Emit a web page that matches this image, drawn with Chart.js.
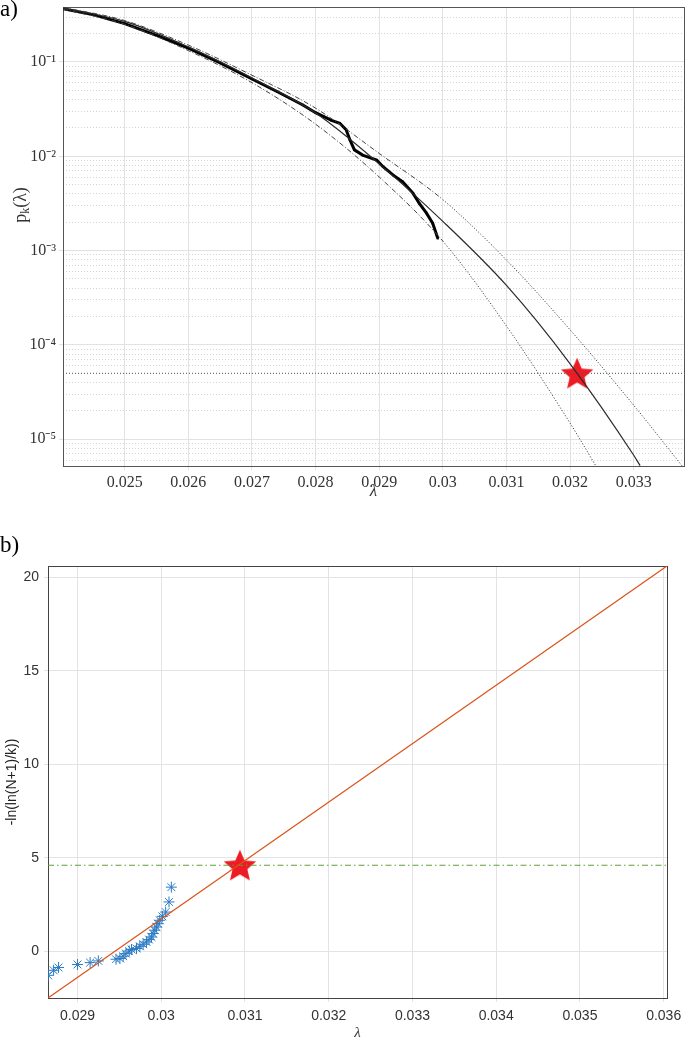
<!DOCTYPE html>
<html><head><meta charset="utf-8">
<script src="https://cdn.jsdelivr.net/npm/chart.js@4/dist/chart.umd.min.js"></script>
<style>
body{margin:0;background:#fff;width:685px;height:1044px;position:relative;overflow:hidden}
canvas{position:absolute;left:0}
#c1{top:0}
#c2{top:505px}
.lab{position:absolute;font-family:"Liberation Serif",serif;font-size:23px;color:#000}
.ytitle{position:absolute;left:21px;top:205px;transform:translate(-50%,-50%) rotate(-90deg);font-family:"Liberation Serif",serif;font-size:18px;color:#333;white-space:nowrap}
.ytitle sub{font-size:12px;vertical-align:-3px}
</style></head><body>
<canvas id="c1" width="685" height="505"></canvas>
<canvas id="c2" width="685" height="539"></canvas>
<div class="lab" style="left:0px;top:-4px">a)</div>
<div class="lab" style="left:0px;top:532px">b)</div>
<div class="ytitle">p<sub>k</sub>(λ)</div>
<script>
// ---------- Panel a) data ----------
const fitLam = [0.02403, 0.0250, 0.0260, 0.0270, 0.0280, 0.0290, 0.0300, 0.0310, 0.0320, 0.0330, 0.0331];
const fitP   = [0.3715, 0.2692, 0.1445, 0.0676, 0.0288, 0.00832, 0.00204, 4.27e-4, 6.31e-5, 6.76e-6, 5.25e-6];
const upLam  = [0.02403, 0.0250, 0.0260, 0.0270, 0.0280, 0.0290, 0.0300, 0.0310, 0.0320, 0.0330, 0.03378];
const upP    = [0.380, 0.275, 0.151, 0.0724, 0.0324, 0.01072, 0.00347, 7.94e-4, 1.445e-4, 2.29e-5, 5.01e-6];
const loLam  = [0.02403, 0.0250, 0.0260, 0.0270, 0.0280, 0.0290, 0.0300, 0.0310, 0.0320, 0.03242];
const loP    = [0.363, 0.251, 0.132, 0.0603, 0.0219, 0.00603, 0.00126, 1.585e-4, 1.479e-5, 5.01e-6];
const empLam = [0.02403, 0.0245, 0.0250, 0.0255, 0.0260, 0.0265, 0.0270, 0.0274, 0.0278, 0.0280, 0.02825, 0.02838, 0.02848, 0.02854, 0.02861, 0.02874, 0.02896, 0.02906, 0.02922, 0.02937, 0.02953, 0.02963, 0.02974, 0.02984, 0.02992];
const empP   = [0.368, 0.318, 0.255, 0.192, 0.140, 0.098, 0.066, 0.0484, 0.0350, 0.0290, 0.0240, 0.0224, 0.0191, 0.0149, 0.0117, 0.0103, 0.0091, 0.00776, 0.00631, 0.00537, 0.00407, 0.00316, 0.00251, 0.00195, 0.00135];
const pThreshold = 5e-5;
const starTopLam = 0.03211;
const topXMin = 0.02403, topXMax = 0.03379;
const topYMin = 5.2e-6, topYMax = 0.383;
const topXTicks = [0.025, 0.026, 0.027, 0.028, 0.029, 0.030, 0.031, 0.032, 0.033];
const topYTicks = [1e-5, 1e-4, 1e-3, 1e-2, 1e-1];
const topYLabels = ['10\u207B\u2075', '10\u207B\u2074', '10\u207B\u00B3', '10\u207B\u00B2', '10\u207B\u00B9'];

// ---------- Panel b) data ----------
const gLam = [0.02865, 0.028715, 0.028774, 0.029000, 0.029151, 0.029249, 0.029460, 0.029507, 0.029546, 0.029578, 0.029618, 0.029646, 0.029705, 0.029745, 0.029784, 0.029824, 0.029855, 0.029884, 0.029903, 0.029923, 0.029943, 0.029962, 0.029982, 0.030014, 0.030053, 0.030093, 0.030121];
const gY   = [-1.27, -1.00, -0.85, -0.69, -0.59, -0.50, -0.41, -0.37, -0.25, -0.11, 0.03, 0.11, 0.16, 0.28, 0.39, 0.51, 0.64, 0.78, 0.96, 1.14, 1.31, 1.49, 1.67, 1.88, 2.11, 2.65, 3.44];
const fitLineLam = [0.028648, 0.03604];
const fitLineY   = [-2.48, 20.59];
const yThreshold = 4.61;
const starBotLam = 0.03094;
const botXMin = 0.028648, botXMax = 0.03604;
const botYMin = -2.48, botYMax = 20.59;
const botXTicks = [0.029, 0.030, 0.031, 0.032, 0.033, 0.034, 0.035, 0.036];
const botYTicks = [0, 5, 10, 15, 20];

// ---------- helpers ----------
const zip = (xs, ys) => xs.map((x, i) => ({x: x, y: ys[i]}));
function makeStar(size, color) {
  const c = document.createElement('canvas');
  c.width = c.height = size;
  const g = c.getContext('2d');
  const R = size / 2, r = R * 0.46, dy = R * 0.09;
  g.beginPath();
  for (let i = 0; i < 10; i++) {
    const a = -Math.PI / 2 + i * Math.PI / 5;
    const rad = (i % 2) ? r : R;
    g.lineTo(R + rad * Math.cos(a), R + dy + rad * Math.sin(a));
  }
  g.closePath();
  g.fillStyle = color;
  g.fill();
  return c;
}
const starImg = makeStar(34, '#ED1C24');
const minorTicks = [];
topYTicks.concat([1]).forEach(d => { for (let k = 2; k <= 9; k++) { const v = d / 10 * k; if (v > topYMin && v < topYMax) minorTicks.push(v); } });
const serif = 'Liberation Serif';
const sans = 'Liberation Sans';
const boundDash = ctx => (ctx.p0.parsed.x < 0.02995 ? [5, 2, 1, 2] : [1.2, 1.8]);
const noInteract = {responsive: false, animation: false, events: []};
const fitH = h => s => { s.height = h; s.paddingLeft = 0; s.paddingRight = 0; s.paddingTop = 0; s.paddingBottom = 0; };
const fitW = w => s => { s.width = w; s.paddingLeft = 0; s.paddingRight = 0; s.paddingTop = 0; s.paddingBottom = 0; };

// ---------- Chart a) ----------
new Chart(document.getElementById('c1'), {
  type: 'scatter',
  data: {datasets: [
    {data: zip(loLam, loP), showLine: true, borderColor: '#444', borderWidth: 1, pointRadius: 0, segment: {borderDash: boundDash}, cubicInterpolationMode: 'monotone'},
    {data: zip(upLam, upP), showLine: true, borderColor: '#444', borderWidth: 1, pointRadius: 0, segment: {borderDash: boundDash}, cubicInterpolationMode: 'monotone'},
    {data: zip(fitLam, fitP), showLine: true, borderColor: '#2a2a2a', borderWidth: 1.2, pointRadius: 0, cubicInterpolationMode: 'monotone'},
    {data: zip(empLam, empP), showLine: true, borderColor: '#000', borderWidth: 3, pointRadius: 1.6, pointStyle: 'rect', backgroundColor: '#000', pointBorderWidth: 0},
    {data: [{x: topXMin, y: pThreshold}, {x: topXMax, y: pThreshold}], showLine: true, borderColor: '#555', borderWidth: 1, borderDash: [1, 2], pointRadius: 0},
    {data: [{x: starTopLam, y: pThreshold}], showLine: false, pointStyle: starImg, pointRadius: 17}
  ]},
  options: Object.assign({}, noInteract, {
    plugins: {legend: {display: false}, tooltip: {enabled: false}},
    layout: {autoPadding: false, padding: {top: 7, right: 1, left: 0, bottom: 0}},
    scales: {
      x: {type: 'linear', min: topXMin, max: topXMax,
        afterBuildTicks: s => { s.ticks = topXTicks.map(v => ({value: v})); },
        afterFit: fitH(39),
        ticks: {callback: v => String(v), font: {family: serif, size: 16}, color: '#333', padding: 3, maxRotation: 0, autoSkip: false},
        grid: {color: '#e2e2e2', tickLength: 4},
        border: {color: '#555'},
        title: {display: true, text: '\u03BB', font: {family: serif, size: 17, style: 'italic'}, color: '#333', padding: {top: 0, bottom: 3}}
      },
      y: {type: 'logarithmic', position: 'left', min: topYMin, max: topYMax,
        afterBuildTicks: s => { s.ticks = topYTicks.map(v => ({value: v})); },
        afterFit: fitW(63),
        ticks: {callback: (v, i) => topYLabels[i], font: {family: serif, size: 16}, color: '#333', padding: 3, autoSkip: false},
        grid: {color: '#e2e2e2', tickLength: 4},
        border: {color: '#555'}
      },
      yMinor: {type: 'logarithmic', position: 'left', min: topYMin, max: topYMax,
        afterBuildTicks: s => { s.ticks = minorTicks.map(v => ({value: v})); },
        afterFit: fitW(0),
        ticks: {display: false},
        grid: {color: '#d4d4d4', drawTicks: false},
        border: {display: false, dash: [1, 2]}
      },
      xTop: {type: 'linear', position: 'top', min: topXMin, max: topXMax,
        afterFit: fitH(0),
        ticks: {display: false}, grid: {drawOnChartArea: false, drawTicks: false}, border: {color: '#555'}
      },
      yRight: {type: 'linear', position: 'right', min: 0, max: 1,
        afterFit: fitW(0),
        ticks: {display: false}, grid: {drawOnChartArea: false, drawTicks: false}, border: {color: '#555'}
      }
    }
  })
});

// ---------- Chart b) ----------
new Chart(document.getElementById('c2'), {
  type: 'scatter',
  data: {datasets: [
    {data: zip(fitLineLam, fitLineY), showLine: true, borderColor: '#D95319', borderWidth: 1.2, pointRadius: 0},
    {data: [{x: botXMin, y: yThreshold}, {x: botXMax, y: yThreshold}], showLine: true, borderColor: '#5FA03A', borderWidth: 1.2, borderDash: [6, 3, 1.5, 3], pointRadius: 0},
    {data: zip(gLam, gY), showLine: false, pointStyle: 'star', pointRadius: 5.5, borderColor: '#2B7BC4', pointBorderWidth: 1, backgroundColor: '#2B7BC4'},
    {data: [{x: starBotLam, y: yThreshold}], showLine: false, pointStyle: starImg, pointRadius: 17}
  ]},
  options: Object.assign({}, noInteract, {
    plugins: {legend: {display: false}, tooltip: {enabled: false}},
    layout: {autoPadding: false, padding: {top: 61, right: 18, left: 0, bottom: 0}},
    scales: {
      x: {type: 'linear', min: botXMin, max: botXMax,
        afterBuildTicks: s => { s.ticks = botXTicks.map(v => ({value: v})); },
        afterFit: fitH(46),
        ticks: {callback: v => String(v), font: {family: sans, size: 14}, color: '#333', padding: 6, maxRotation: 0, autoSkip: false},
        grid: {color: '#e3e3e3', tickLength: 4},
        border: {color: '#444'},
        title: {display: true, text: '\u03BB', font: {family: serif, size: 15, style: 'italic'}, color: '#333', padding: {top: 0, bottom: 2}}
      },
      y: {type: 'linear', min: botYMin, max: botYMax,
        afterBuildTicks: s => { s.ticks = botYTicks.map(v => ({value: v})); },
        afterFit: fitW(48),
        ticks: {font: {family: sans, size: 14}, color: '#333', padding: 5, autoSkip: false},
        grid: {color: '#e3e3e3', tickLength: 4},
        border: {color: '#444'},
        title: {display: true, text: '-ln(ln(N+1)/k))', font: {family: sans, size: 14}, color: '#222', padding: {top: 4, bottom: 0}}
      },
      xTop: {type: 'linear', position: 'top', min: botXMin, max: botXMax,
        afterFit: fitH(0),
        ticks: {display: false}, grid: {drawOnChartArea: false, drawTicks: false}, border: {color: '#444'}
      },
      yRight: {type: 'linear', position: 'right', min: botYMin, max: botYMax,
        afterFit: fitW(0),
        ticks: {display: false}, grid: {drawOnChartArea: false, drawTicks: false}, border: {color: '#444'}
      }
    }
  })
});
</script>
</body></html>
